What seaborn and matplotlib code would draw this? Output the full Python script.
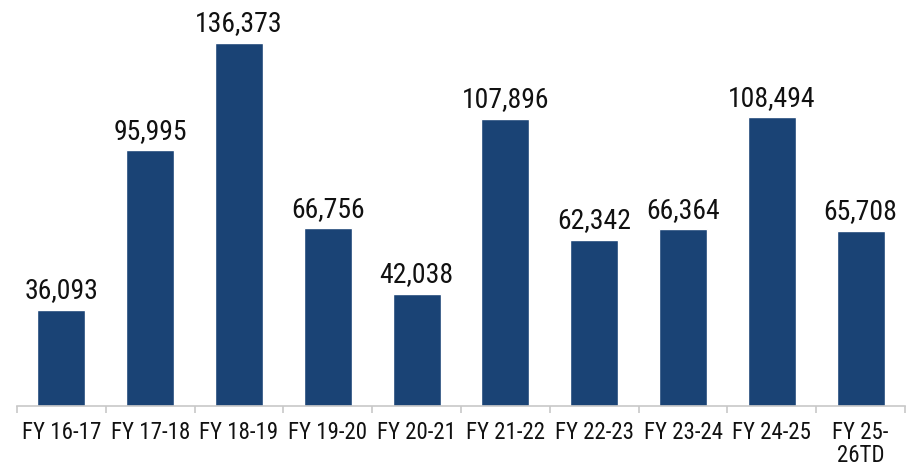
import matplotlib
matplotlib.use("Agg")
import matplotlib.pyplot as plt
import seaborn as sns
import pandas as pd
from matplotlib.font_manager import fontManager

# Fiscal-year totals
categories = ["FY 16-17", "FY 17-18", "FY 18-19", "FY 19-20", "FY 20-21",
              "FY 21-22", "FY 22-23", "FY 23-24", "FY 24-25", "FY 25-\n26TD"]
values = [36093, 95995, 136373, 66756, 42038, 107896, 62342, 66364, 108494, 65708]

sns.set_theme(style="white")
installed = {f.name for f in fontManager.ttflist}
families = [f for f in ["Roboto Condensed", "Liberation Sans Narrow", "Roboto", "DejaVu Sans"] if f in installed]
plt.rcParams["font.family"] = families

df = pd.DataFrame({"year": categories, "value": values})

fig = plt.figure(figsize=(9.12, 4.72), dpi=100)
ax = fig.add_axes([17 / 912, 66 / 472, 888 / 912, 406 / 472])

sns.barplot(data=df, x="year", y="value", color="#1A4375", saturation=1,
            width=0.54, ax=ax)

ax.set_ylim(0, 152500)
ax.set_xlim(-0.5, len(categories) - 0.5)

for i, v in enumerate(values):
    ax.annotate(f"{v:,}", (i, v), xytext=(0, 4), textcoords="offset points",
                ha="center", va="bottom", fontsize=20, color="#111111")

for side in ["top", "right", "left"]:
    ax.spines[side].set_visible(False)
ax.spines["bottom"].set_color("#c8c8c8")
ax.spines["bottom"].set_linewidth(1.2)

ax.set_yticks([])
ax.set_xlabel("")
ax.set_ylabel("")
ax.set_xticks(range(len(categories)))
ax.set_xticklabels(categories, fontsize=16.5, color="#111111", linespacing=1.0)
ax.set_xticks([i - 0.5 for i in range(len(categories) + 1)], minor=True)
ax.tick_params(axis="x", which="major", length=0, pad=11)
ax.tick_params(axis="x", which="minor", length=5, width=1.2, color="#c8c8c8",
               bottom=True)

fig.savefig("out.png", dpi=100, facecolor="white")
